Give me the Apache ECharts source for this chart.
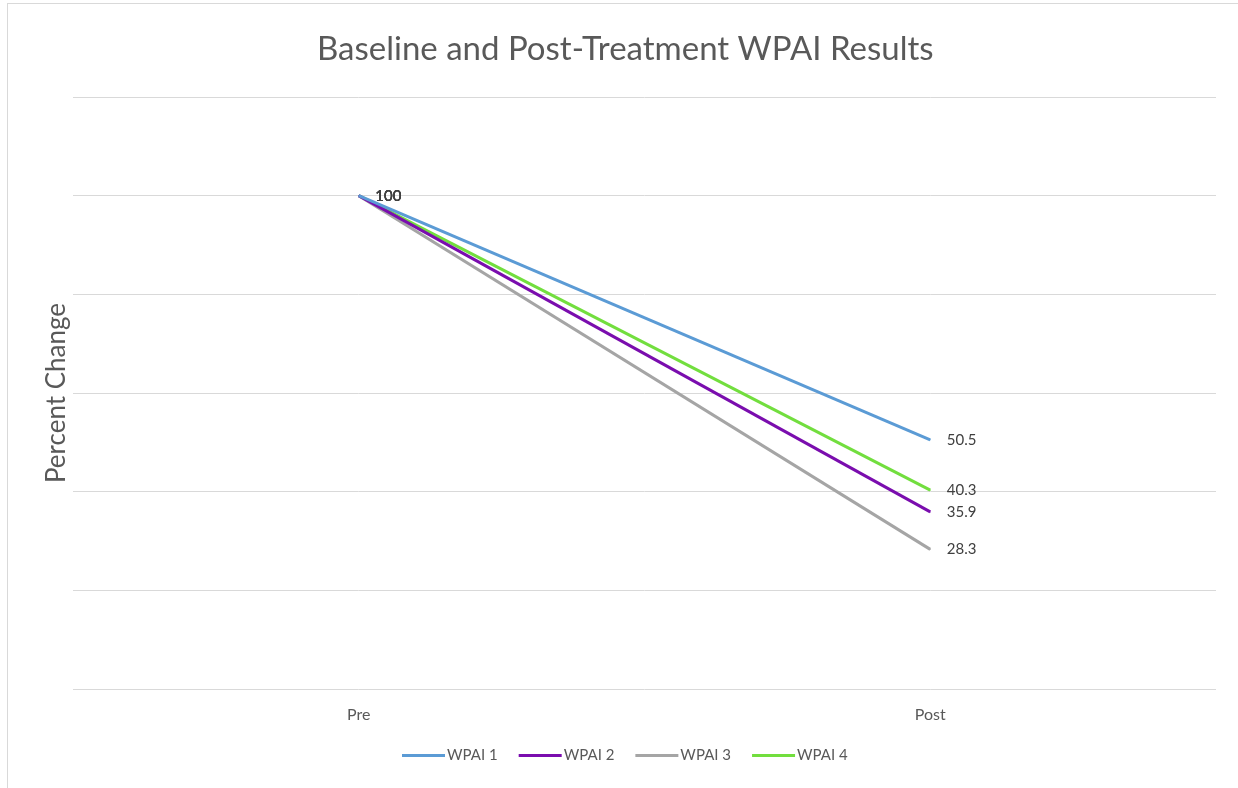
<!DOCTYPE html>
<html>
<head>
<meta charset="utf-8">
<script src="https://cdn.jsdelivr.net/npm/echarts@6/dist/echarts.min.js"></script>
<style>
html,body{margin:0;padding:0;background:#fff;}
#frame{position:absolute;left:7px;top:3px;width:1240px;height:790px;border:1px solid #d9d9d9;box-sizing:border-box;}
#chart{position:absolute;left:0;top:0;width:1238px;height:788px;}
</style>
</head>
<body>
<div id="frame"></div>
<div id="chart"></div>
<script>
const categories = ['Pre', 'Post'];
const seriesNames = ['WPAI 1', 'WPAI 2', 'WPAI 3', 'WPAI 4'];
const wpai1 = [100, 50.5];
const wpai2 = [100, 35.9];
const wpai3 = [100, 28.3];
const wpai4 = [100, 40.3];
const colors = ['#5B9BD5', '#7A0DAE', '#A5A5A5', '#72DE3E'];

const font = 'Lato, "Open Sans", sans-serif';
const chart = echarts.init(document.getElementById('chart'));
const allData = [wpai1, wpai2, wpai3, wpai4];
chart.setOption({
  animation: false,
  title: {
    text: 'Baseline and Post-Treatment WPAI Results',
    left: 312, top: 28,
    textStyle: {fontFamily: font, fontSize: 33, fontWeight: 'normal', color: '#595959'}
  },
  legend: {
    bottom: 20, left: 397,
    itemWidth: 43, itemHeight: 3, itemGap: 21,
    icon: 'rect',
    textStyle: {fontFamily: font, fontSize: 15, color: '#595959', padding: [0,0,0,-3]},
    data: seriesNames
  },
  grid: {left: 73, right: 22, top: 97, bottom: 99},
  xAxis: {
    type: 'category', data: categories, boundaryGap: true,
    axisLine: {show: false}, axisTick: {show: false},
    axisLabel: {fontFamily: font, fontSize: 16, color: '#595959', margin: 18}
  },
  yAxis: {
    type: 'value', min: 0, max: 120, interval: 20,
    name: 'Percent Change', nameLocation: 'middle', nameGap: 3,
    nameTextStyle: {fontFamily: font, fontSize: 26, color: '#595959'},
    axisLabel: {show: false}, axisLine: {show: false}, axisTick: {show: false},
    splitLine: {lineStyle: {color: '#d9d9d9', width: 1}}
  },
  series: seriesNames.map((n, i) => ({
    name: n, type: 'line', data: allData[i],
    symbol: 'circle', symbolSize: 1, showSymbol: true,
    color: colors[i],
    lineStyle: {width: 3, color: colors[i]},
    label: {
      show: true, position: 'right', distance: 16,
      fontFamily: font, fontSize: 15, color: '#404040'
    },
    z: 4 - i
  }))
});
</script>
</body>
</html>
